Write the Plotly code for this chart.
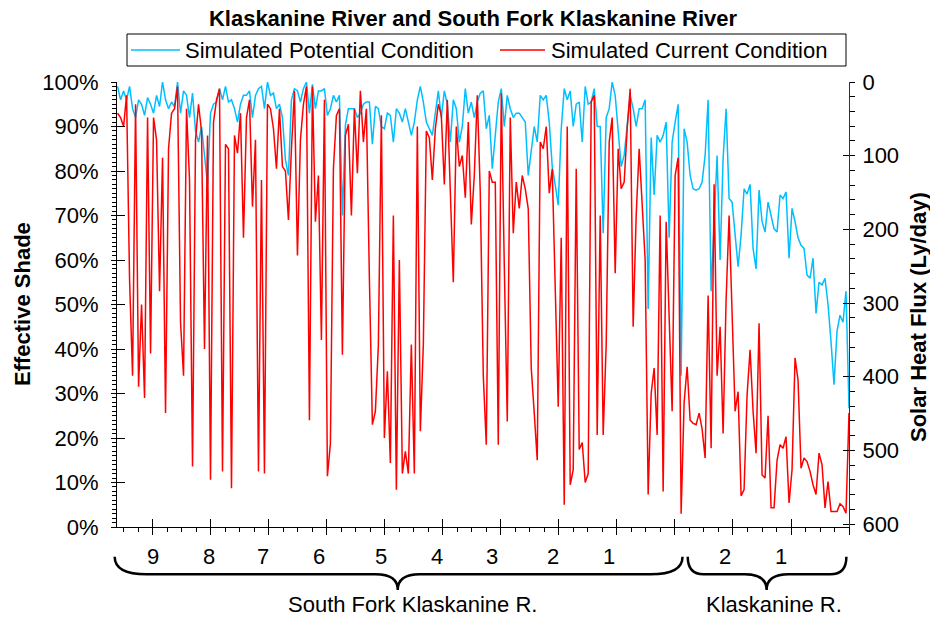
import numpy as np
import plotly.graph_objects as go

# ---------------------------------------------------------------------------
# Effective shade (%) along the stream, upstream (left) to mouth (right),
# one value per model node at a uniform node spacing.
# ---------------------------------------------------------------------------
potential_shade = [
    99, 96, 98, 96, 99, 94, 92, 96, 95, 92.5,
    96.5, 95, 93, 97, 94.5, 100, 96, 94, 95.5, 94.5,
    100, 93, 98, 97, 92, 97.5, 89, 86.5, 90, 83.5,
    77, 93, 95, 95.5, 98.5, 96, 99, 95.5, 96, 94,
    91, 95, 97, 97, 98, 92, 97, 98.5, 99, 94,
    100, 97, 97.5, 94, 95, 92, 82.5, 79, 96, 98.5,
    98, 95.5, 98.5, 100, 93, 99.5, 94, 98, 98, 98.5,
    92.5, 94, 97, 95.5, 97, 70, 90.3, 94, 94, 94,
    92, 93, 95, 95.5, 95.5, 86, 94.5, 94, 90, 89.5,
    93, 92.5, 86.5, 94, 93, 91, 94, 90.6, 88, 91,
    96, 99, 95.5, 91, 89.5, 88, 93, 98, 92, 98,
    95, 86.5, 96, 94, 86.5, 90, 98.5, 93, 95.5, 92,
    95.5, 97.5, 98, 89.5, 92.5, 80.5, 88, 95.5, 98.5, 90,
    97, 94, 92, 93, 93, 92, 91, 79, 84, 90,
    86.5, 97, 96, 97, 91, 81, 76.8, 72.3, 89.5, 98.5,
    96, 98, 90, 95, 95.5, 86.5, 99, 95, 95.5, 98.5,
    90, 90, 66, 92, 94, 100, 97, 89, 81, 83.5,
    91, 97, 94, 90, 94, 94, 96, 49, 87.5, 74.6,
    88, 86.5, 88, 91, 65, 86.5, 91, 95, 34, 89.5,
    86.5, 79, 76, 75.7, 76, 77.5, 83.5, 96, 53, 68,
    83.5, 60, 82.8, 94, 73.8, 73, 65.6, 58.5, 65.6, 76,
    74.8, 77, 62.6, 58, 75.7, 68.6, 66.3, 73, 70, 67,
    66.3, 74.6, 73.8, 75.3, 60.4, 71.6, 68.6, 65, 63.3, 62.6,
    56.6, 55.9, 60.4, 48, 55, 54.4, 55.9, 50, 41.7, 32,
    44, 47.6, 46, 53, 26.7,
]

current_shade = [
    93, 92, 90, 97, 55.5, 34, 95, 31.5, 50, 29,
    92, 39, 92, 87, 53, 83, 25.6, 85, 93, 94,
    99, 46, 34, 94, 78, 13.6, 87, 95, 89, 40,
    88, 10.6, 91, 96, 98.5, 12.5, 86, 85, 8.7, 88,
    84, 93, 65, 92, 96, 72, 87, 12.5, 78, 12,
    95, 94, 89.5, 80.5, 94, 81, 80, 69, 85, 98,
    61, 87, 95, 99, 24, 99, 68.6, 79, 42, 96,
    11.4, 18.8, 80.5, 92.5, 94, 38.7, 88, 90.5, 70, 94,
    79.5, 98, 86.5, 94, 56, 23, 26, 40.8, 92.5, 20,
    35, 14.4, 70, 8.4, 60, 12, 17, 12, 41, 12,
    90, 21.5, 41, 89, 87.5, 78, 89.5, 95, 92.5, 77,
    96, 75, 55, 90, 81, 83.5, 74, 91, 68, 79,
    97, 75, 34, 18.5, 80, 77.5, 77.5, 18.5, 97.4, 59,
    23.7, 92, 66, 77.5, 71.6, 79, 76, 71.5, 35.7, 25.6,
    15, 86.5, 85, 90, 75, 80.5, 56.6, 27, 65, 5,
    90, 9.5, 12.9, 80.5, 17.4, 19, 10, 12, 95.5, 97,
    20.7, 70, 20.7, 41, 86.5, 92, 57, 85, 76, 77.5,
    89.5, 98.5, 45, 70, 85, 73, 60, 7.3, 30, 35.7,
    20.7, 70, 8, 68.6, 45, 26, 79, 83, 3, 28,
    36, 24, 23.3, 23, 25.6, 22, 15.5, 52, 17.7, 77,
    34, 45, 21, 51, 70, 50, 26, 30.4, 7, 8.4,
    29.7, 39.8, 26, 16.6, 45.8, 11.7, 11, 25, 4.3, 4.3,
    15, 18.5, 17.7, 20.3, 5.4, 12.9, 38, 33, 13.2, 15.5,
    14.7, 12.5, 9.5, 7.3, 16.6, 14, 4.3, 10.2, 3.5, 3.5,
    3.5, 5.2, 4.6, 3.1, 25.6,
]

# Distance of the first and last node above the mouth (axis units)
first_node_dist = 12.61
last_node_dist = 0.0

# Reach numbers written under the distance axis, and where they sit
reach_labels = ["9", "8", "7", "6", "5", "4", "3", "2", "1", "2", "1"]
reach_label_dist = [12.0, 11.03, 10.10, 9.14, 8.06, 7.10, 6.15, 5.10, 4.14, 2.13, 1.17]

# Streams grouped by braces under the axis
river_names = ["South Fork Klaskanine R.", "Klaskanine R."]
river_spans = [(12.66, 2.87), (2.78, 0.045)]
river_brace_tip = [7.78, 1.42]
river_name_dist = [7.53, 1.30]
river_brace_curl = [32, 16]

shade_ticks = list(range(0, 101, 10))
flux_ticks = list(range(0, 601, 100))

# ---------------------------------------------------------------------------
# Page geometry
# ---------------------------------------------------------------------------
W, H = 930, 617
M_L, M_R, M_T, M_B = 117, 81, 82, 90
PLOT_W = W - M_L - M_R
PLOT_H = H - M_T - M_B
X_MAX = 12.62          # distance at the left edge of the plot
FLUX_MAX = 604         # flux range of the right axis (0 at top)

FONT = "Liberation Sans, Arial, Helvetica, sans-serif"
BLUE = "#00BFFF"
RED = "#FF0000"
FS = 22
LW = 1.5


def px_x(px):
    return (px - M_L) / PLOT_W


def px_y(py):
    return (H - M_B - py) / PLOT_H


def dist_x(d):
    return (X_MAX - d) / X_MAX


distance = np.linspace(first_node_dist, last_node_dist, len(current_shade))

fig = go.Figure()

fig.add_trace(go.Scatter(
    x=distance, y=potential_shade, mode="lines",
    name="Simulated Potential Condition",
    line=dict(color=BLUE, width=LW), showlegend=False,
))
fig.add_trace(go.Scatter(
    x=distance, y=current_shade, mode="lines",
    name="Simulated Current Condition",
    line=dict(color=RED, width=LW), showlegend=False,
))

# Invisible carriers so the secondary / tick-overlay axes are laid out
for xa, ya in (("x", "y2"), ("x2", "y3"), ("x2", "y4")):
    fig.add_trace(go.Scatter(
        x=distance, y=current_shade, xaxis=xa, yaxis=ya, mode="lines",
        line=dict(width=0, color="rgba(0,0,0,0)"), hoverinfo="skip",
        showlegend=False,
    ))

tick_common = dict(tickcolor="black", tickwidth=1, showgrid=False,
                   zeroline=False)

fig.update_layout(
    width=W, height=H,
    margin=dict(l=M_L, r=M_R, t=M_T, b=M_B),
    paper_bgcolor="white", plot_bgcolor="white",
    font=dict(family=FONT, size=FS, color="black"),
    showlegend=False,
    title=dict(
        text="<b>Klaskanine River and South Fork Klaskanine River</b>",
        x=473 / W, xref="container", xanchor="center",
        y=1 - 18 / H, yref="container", yanchor="middle",
        font=dict(family=FONT, size=FS, color="black"),
    ),
    xaxis=dict(
        range=[X_MAX, 0], showline=True, linecolor="black", linewidth=1,
        ticks="outside", ticklen=7, tickmode="linear", tick0=0, dtick=1,
        showticklabels=False,
        minor=dict(ticks="outside", ticklen=4, dtick=0.25, tick0=0,
                   tickcolor="black", tickwidth=1),
        **tick_common,
    ),
    xaxis2=dict(
        range=[X_MAX, 0], overlaying="x", anchor="y", side="bottom",
        showline=False, ticks="inside", ticklen=8, tickmode="linear",
        tick0=0, dtick=1, showticklabels=False, **tick_common,
    ),
    yaxis=dict(
        range=[0, 100], showline=True, linecolor="black", linewidth=1,
        ticks="outside", ticklen=5, tickvals=shade_ticks,
        ticktext=[f"{v}%" for v in shade_ticks],
        ticklabelstandoff=8,
        minor=dict(ticks="outside", ticklen=4, dtick=1, tick0=0,
                   tickcolor="black", tickwidth=1),
        tickfont=dict(size=FS), **tick_common,
    ),
    yaxis3=dict(
        range=[0, 100], overlaying="y", anchor="x", side="left",
        showline=False, ticks="inside", ticklen=8, tickvals=shade_ticks,
        showticklabels=False, **tick_common,
    ),
    yaxis2=dict(
        range=[FLUX_MAX, 0], overlaying="y", anchor="x", side="right",
        showline=True, linecolor="#333333", linewidth=1,
        ticks="outside", ticklen=5, tickvals=flux_ticks,
        ticktext=[str(v) for v in flux_ticks],
        ticklabelstandoff=3,
        minor=dict(ticks="outside", ticklen=5, dtick=20, tick0=0,
                   tickcolor="black", tickwidth=1),
        tickfont=dict(size=FS), **tick_common,
    ),
    yaxis4=dict(
        range=[FLUX_MAX, 0], overlaying="y", anchor="x", side="right",
        showline=False, ticks="inside", ticklen=6, tickvals=flux_ticks,
        showticklabels=False, **tick_common,
    ),
)

annotations = []
shapes = []

# Axis titles
annotations.append(dict(
    text="<b>Effective Shade</b>", xref="paper", yref="paper",
    x=px_x(22), y=px_y(304), textangle=-90, showarrow=False,
    xanchor="center", yanchor="middle", font=dict(size=FS),
))
annotations.append(dict(
    text="<b>Solar Heat Flux (Ly/day)</b>", xref="paper", yref="paper",
    x=px_x(918), y=px_y(317), textangle=-90, showarrow=False,
    xanchor="center", yanchor="middle", font=dict(size=FS),
))

# Reach numbers under the distance axis
for lab, d in zip(reach_labels, reach_label_dist):
    annotations.append(dict(
        text=lab, xref="x", yref="paper", x=d, y=px_y(556),
        showarrow=False, xanchor="center", yanchor="middle",
        font=dict(size=FS),
    ))


def brace_path(d_left, d_right, d_tip, curl_px, tip_px=22):
    y_end, y_bar, y_tip = px_y(556.7), px_y(574.3), px_y(590)
    xl, xr, xt = dist_x(d_left), dist_x(d_right), dist_x(d_tip)
    c = curl_px / PLOT_W
    t = tip_px / PLOT_W
    return (
        f"M {xl},{y_end} Q {xl},{y_bar} {xl + c},{y_bar} "
        f"L {xt - t},{y_bar} Q {xt},{y_bar} {xt},{y_tip} "
        f"Q {xt},{y_bar} {xt + t},{y_bar} "
        f"L {xr - c},{y_bar} Q {xr},{y_bar} {xr},{y_end}"
    )


for name, (d0, d1), tip, curl, dn in zip(river_names, river_spans,
                                         river_brace_tip, river_brace_curl,
                                         river_name_dist):
    shapes.append(dict(
        type="path", xref="paper", yref="paper",
        path=brace_path(d0, d1, tip, curl),
        line=dict(color="black", width=2.5),
    ))
    annotations.append(dict(
        text=name, xref="x", yref="paper", x=dn, y=px_y(604),
        showarrow=False, xanchor="center", yanchor="middle",
        font=dict(size=FS),
    ))

# Legend box drawn above the plot
shapes.append(dict(
    type="rect", xref="paper", yref="paper",
    x0=px_x(127), x1=px_x(846), y0=px_y(66), y1=px_y(34),
    line=dict(color="black", width=1), fillcolor="white",
))
legend_items = [
    ("Simulated Potential Condition", BLUE, 131, 180, 183),
    ("Simulated Current Condition", RED, 500, 545, 549),
]
for text, color, l0, l1, tx in legend_items:
    shapes.append(dict(
        type="line", xref="paper", yref="paper",
        x0=px_x(l0), x1=px_x(l1), y0=px_y(50), y1=px_y(50),
        line=dict(color=color, width=LW),
    ))
    annotations.append(dict(
        text=text, xref="paper", yref="paper", x=px_x(tx), y=px_y(50),
        showarrow=False, xanchor="left", yanchor="middle",
        font=dict(size=FS),
    ))

fig.update_layout(annotations=annotations, shapes=shapes)

fig.write_html("out.html")
